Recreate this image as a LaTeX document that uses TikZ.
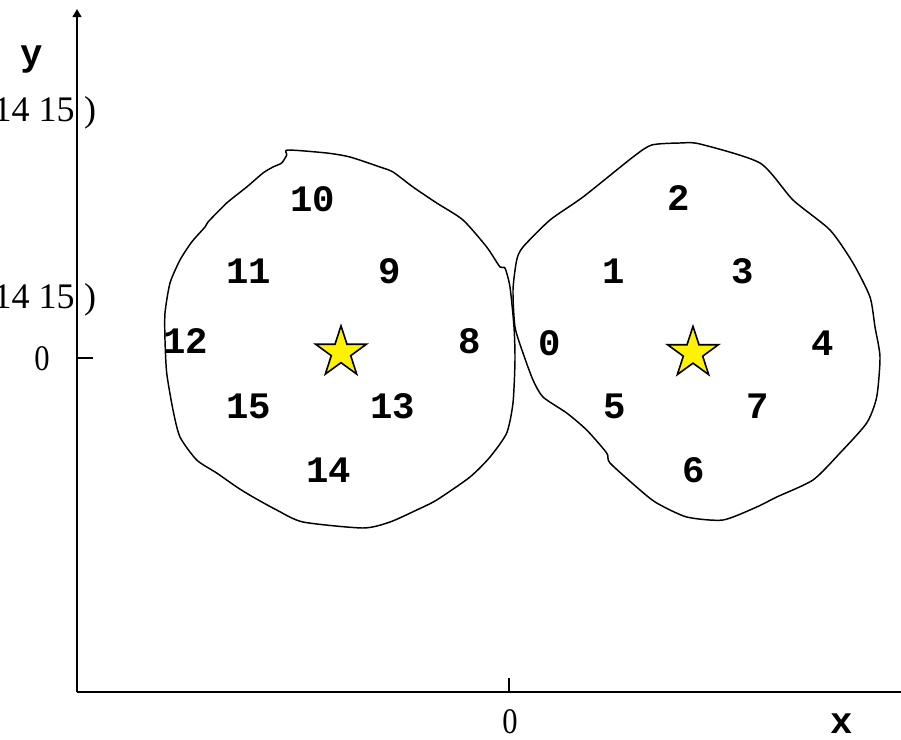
\documentclass[tikz,border=0pt]{standalone}
\usepackage{fontspec}
\setmainfont{Liberation Serif}
\setmonofont{Liberation Mono}
\usetikzlibrary{arrows.meta, shapes.geometric}

\newcommand{\narrow}[1]{\scalebox{0.85}[1]{#1}}

\begin{document}
\begin{tikzpicture}[
			x=0.75pt, y=-0.75pt,
			axis/.style={line width=1.5pt, -{Triangle[length=6pt, width=6.5pt]}},
			tick/.style={line width=1.5pt},
			blob/.style={line width=1.1pt, line join=round},
			num/.style={font=\ttfamily\bfseries\fontsize{28}{30}\selectfont, inner sep=0pt},
			axlabel/.style={font=\ttfamily\bfseries\fontsize{28}{30}\selectfont, inner sep=0pt},
			val/.style={font=\fontsize{27}{29}\selectfont, inner sep=0pt},
			centre/.style={star, star points=5, star point ratio=2.618, draw=black, line width=1.2pt, fill=yellow, minimum size=40pt, inner sep=0pt}
			]
			\useasboundingbox (0,0) rectangle (901,740);
			
			% Axes
			\coordinate (o) at (77,692);
			\coordinate (xend) at (909,692);
			\coordinate (yend) at (77,9);
			\coordinate (xtick) at (509,692);
			\coordinate (ytick) at (77,358);
			\draw[axis] (o) -- (xend);
			\draw[axis] (o) -- (yend);
			\draw[tick] (xtick) -- ++(0,-14);
			\draw[tick] (ytick) -- ++(16,0);
			
			% Axis labels
			\node[axlabel] (xlab) at (842,724) {x};
			\node[axlabel] (ylab) at (32,60) {y};
			\node[val, anchor=base] (xzero) at (510,733.5) {\narrow{0}};
			\node[val, anchor=base] (yzero) at (42,370) {\narrow{0}};
			\node[val, anchor=base east] (rowa) at (75,121.7) {14 15};
			\node[val, anchor=base] (rowaend) at (90,121.7) {)};
			\node[val, anchor=base east] (rowb) at (75,308) {14 15};
			\node[val, anchor=base] (rowbend) at (90,308) {)};
			
			% Left cluster
			\draw[blob] plot[smooth cycle, tension=0.4] coordinates {
				(287.7,150) (286.7,155) (281.7,163) (273,167) (263,173) (246.7,187)
				(226.7,203) (208,222) (205,227) (191.7,242) (180,260) (170,283)
				(165,313) (165,340) (166.7,373) (173,410) (180,437) (196.7,460)
				(216.7,473) (236.7,487) (253,497) (276.7,510) (303,522) (363,528)
				(390,522) (416.7,510) (436.7,500) (470,477) (490,457) (506.7,433)
				(513,403) (515,360) (514,327) (510,287) (505,268) (500,267)
				(486.7,247) (463,220) (436.7,203) (413,187) (393,172) (380,167)
				(350,157) (326.7,153)};
			\node[centre] (cl) at (341,352.5) {};
			\node[num] (n10) at (312.5,199) {10};
			\node[num] (n11) at (249,271) {11};
			\node[num] (n9) at (390,271) {9};
			\node[num] (n12) at (186,341) {12};
			\node[num] (n8) at (470,341) {8};
			\node[num] (n15) at (249,406) {15};
			\node[num] (n13) at (393,406) {13};
			\node[num] (n14) at (329,470) {14};
			
			% Right cluster
			\draw[blob] plot[smooth cycle, tension=0.4] coordinates {
				(651.7,145) (680,143) (700,144) (760,163) (793,200) (830,230)
				(853,263) (870,297) (875,327) (880,357) (876.7,397) (866.7,423)
				(840,453) (813,480) (776.7,497) (756.7,507) (723,520) (686.7,517)
				(656.7,503) (640,490) (610,463) (606.7,453) (586.7,430) (566.7,413)
				(543,397) (533,380) (523,353) (515,327) (513,290) (516.7,260)
				(523,247) (550,220) (583,197) (633,157)};
			\node[centre] (cr) at (693,353) {};
			\node[num] (n2) at (679,198) {2};
			\node[num] (n1) at (614,271) {1};
			\node[num] (n3) at (742.7,271) {3};
			\node[num] (n0) at (550,342.7) {0};
			\node[num] (n4) at (822.7,342.7) {4};
			\node[num] (n5) at (615,406) {5};
			\node[num] (n7) at (758,406) {7};
			\node[num] (n6) at (694,470) {6};
			
		\end{tikzpicture}
\end{document}
